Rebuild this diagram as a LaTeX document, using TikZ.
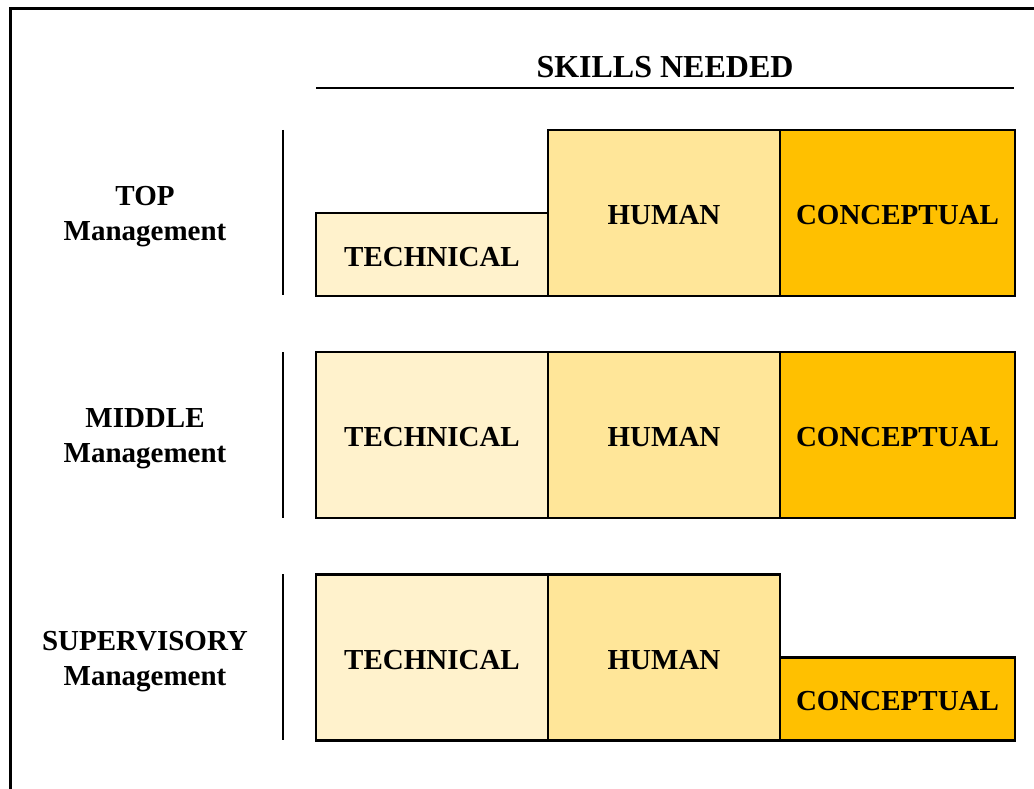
\documentclass[tikz,border=0pt]{standalone}
\usepackage{fontspec}
\setmainfont{Liberation Serif}
\usepackage{tikz}
\definecolor{techcol}{HTML}{FFF2CC}
\definecolor{humcol}{HTML}{FFE699}
\definecolor{conccol}{HTML}{FFC000}
\begin{document}
\begin{tikzpicture}[x=1pt,y=-1pt,
    skill/.style={draw,line width=2.6pt,minimum width=232pt,inner sep=0pt,
      text height=23pt,text depth=0pt,font=\fontsize{29}{35}\selectfont\bfseries},
    tech/.style={skill,fill=techcol},
    hum/.style={skill,fill=humcol},
    conc/.style={skill,fill=conccol,minimum width=235pt},
    full/.style={minimum height=166pt},
    half/.style={minimum height=83pt},
    level/.style={align=center,font=\fontsize{29}{35}\selectfont\bfseries},
    bar/.style={line width=2pt}]
          \useasboundingbox (0,0) rectangle (1034,789);
          \draw[line width=3.5pt] (10.5,800)--(10.5,8.5)--(1040,8.5);
          \node[font=\fontsize{32}{38}\selectfont\bfseries] (title) at (665,67) {SKILLS NEEDED};
          \draw[line width=2.4pt] (316,88)--(1014,88);
          \node[level] (top) at (145,217) {TOP\\Management};
          \node[level] (mid) at (145,439) {MIDDLE\\Management};
          \node[level] (sup) at (145,662) {SUPERVISORY\\Management};
          \draw[bar] (283,130)--(283,295);
          \draw[bar] (283,352)--(283,518);
          \draw[bar] (283,574)--(283,740);
          \node[tech,half] (toptech) at (432,254.5) {TECHNICAL};
          \node[hum,full] (tophum) at (664,213) {HUMAN};
          \node[conc,full] (topconc) at (897.5,213) {CONCEPTUAL};
          \node[tech,full] (midtech) at (432,435) {TECHNICAL};
          \node[hum,full] (midhum) at (664,435) {HUMAN};
          \node[conc,full] (midconc) at (897.5,435) {CONCEPTUAL};
          \node[tech,full] (suptech) at (432,657.5) {TECHNICAL};
          \node[hum,full] (suphum) at (664,657.5) {HUMAN};
          \node[conc,half] (supconc) at (897.5,699) {CONCEPTUAL};
        \end{tikzpicture}
\end{document}
